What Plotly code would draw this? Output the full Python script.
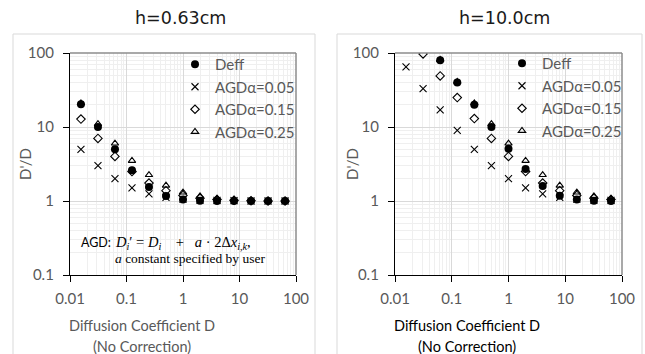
import plotly.graph_objects as go

W, H = 645, 354

# ---- data ----
d_values = [0.015625, 0.03125, 0.0625, 0.125, 0.25, 0.5, 1, 2, 4, 8, 16, 32, 64]

# panel h=0.63cm
deff_063 = [20.3, 10.0, 5.0, 2.6, 1.55, 1.17, 1.05, 1.01, 1.0, 1.0, 1.0, 1.0, 1.0]
agd005_063 = [5.0, 3.0, 2.0, 1.5, 1.25, 1.12, 1.06, 1.03, 1.02, 1.01, 1.0, 1.0, 1.0]
agd015_063 = [12.8, 7.0, 4.0, 2.5, 1.75, 1.38, 1.19, 1.09, 1.05, 1.02, 1.01, 1.0, 1.0]
agd025_063 = [21.0, 11.0, 6.0, 3.5, 2.25, 1.62, 1.31, 1.16, 1.08, 1.04, 1.02, 1.01, 1.0]

# panel h=10.0cm
deff_10 = [320, 160, 80, 40, 20, 10, 5.1, 2.7, 1.6, 1.18, 1.05, 1.01, 1.0]
agd005_10 = [65, 33, 17, 9, 5, 3, 2, 1.5, 1.25, 1.12, 1.06, 1.03, 1.02]
agd015_10 = [193, 97, 49, 25, 13, 7, 4, 2.5, 1.75, 1.38, 1.19, 1.09, 1.05]
agd025_10 = [321, 161, 81, 41, 21, 11, 6, 3.5, 2.25, 1.62, 1.31, 1.16, 1.08]

series_names = ["Deff", "AGDα=0.05", "AGDα=0.15", "AGDα=0.25"]
panel_titles = ["h=0.63cm", "h=10.0cm"]

x_tickvals = [0.01, 0.1, 1, 10, 100]
x_ticktext = ["0.01", "0.1", "1", "10", "100"]
y_tickvals = [0.1, 1, 10, 100]
y_ticktext = ["0.1", "1", "10", "100"]

x_title = ["Diffusion Coefficient D", "(No Correction)"]
y_title = "D'/D"

# ---- styles ----
SANS = "Lato"
GRAY = "#595959"
styles = [
    dict(symbol="circle", size=8, color="black", line=dict(width=0)),
    dict(symbol="x-thin", size=7, color="black", line=dict(width=1.1, color="black")),
    dict(symbol="diamond-open", size=6.5, color="black", line=dict(width=1.1, color="black")),
    dict(symbol="triangle-up-open", size=6.5, color="black", line=dict(width=1.1, color="black")),
]

def px_x(p):
    return p / W

def px_y(p):
    return 1 - p / H

fig = go.Figure()

panels = [
    ([deff_063, agd005_063, agd015_063, agd025_063], "x", "y", "legend"),
    ([deff_10, agd005_10, agd015_10, agd025_10], "x2", "y2", "legend2"),
]
for series, xa, ya, lg in panels:
    for name, ys, st in zip(series_names, series, styles):
        fig.add_trace(go.Scatter(
            x=d_values, y=ys, mode="markers", name=name,
            marker=st, xaxis=xa, yaxis=ya, legend=lg, cliponaxis=True,
        ))

plot_dom_x = [(70, 296), (395, 622)]
ydom = [px_y(275), px_y(53)]

axis_common = dict(
    type="log", showline=True, linecolor="black", linewidth=1.3,
    ticks="outside", ticklen=6, tickcolor="black", tickwidth=1,
    tickfont=dict(family=SANS, size=15, color=GRAY),
    showgrid=True, gridcolor="#d9d9d9", gridwidth=1, zeroline=False, automargin=False,
    minor=dict(showgrid=True, gridcolor="#efefef", gridwidth=1, ticks="", dtick="D1"),
)

layout = dict(
    width=W, height=H, margin=dict(l=0, r=0, t=0, b=0, pad=0, autoexpand=False),
    paper_bgcolor="white", plot_bgcolor="white", showlegend=True,
)
for i, (x0, x1) in enumerate(plot_dom_x):
    sx = "" if i == 0 else str(i + 1)
    layout["xaxis" + sx] = dict(axis_common, domain=[px_x(x0), px_x(x1)], range=[-2, 2],
                                tickvals=x_tickvals, ticktext=x_ticktext,
                                anchor="y" + sx, ticklabelstandoff=4)
    layout["yaxis" + sx] = dict(axis_common, domain=ydom, range=[-1, 2],
                                tickvals=y_tickvals, ticktext=y_ticktext,
                                anchor="x" + sx, ticklabelstandoff=6)

leg_common = dict(font=dict(family=SANS, size=15, color=GRAY), bgcolor="rgba(0,0,0,0)",
                  xanchor="left", yanchor="top", itemwidth=30, tracegroupgap=0)
layout["legend"] = dict(leg_common, x=px_x(175), y=px_y(48))
layout["legend2"] = dict(leg_common, x=px_x(502), y=px_y(47))

fig.update_layout(**layout)

shapes = []
# chart-area borders
shapes.append(dict(type="rect", xref="paper", yref="paper", x0=px_x(13), x1=px_x(315),
                   y0=-0.05, y1=px_y(34), line=dict(color="#d9d9d9", width=1)))
shapes.append(dict(type="rect", xref="paper", yref="paper", x0=px_x(337), x1=px_x(642),
                   y0=-0.05, y1=px_y(34), line=dict(color="#d9d9d9", width=1)))
# top/right plot frame
for sx in ["", "2"]:
    shapes.append(dict(type="line", xref="x" + sx + " domain", yref="y" + sx + " domain",
                       x0=0, x1=1, y0=1, y1=1, line=dict(color="#8c8c8c", width=1.5)))
    shapes.append(dict(type="line", xref="x" + sx + " domain", yref="y" + sx + " domain",
                       x0=1, x1=1, y0=0, y1=1, line=dict(color="#8c8c8c", width=1.5)))
fig.update_layout(shapes=shapes)

ann = []
# panel titles
for cx, t in zip([180, 505], panel_titles):
    ann.append(dict(text=t, x=px_x(cx), y=px_y(18), xref="paper", yref="paper",
                    showarrow=False, xanchor="center", yanchor="middle",
                    font=dict(family="DejaVu Sans", size=17.5, color="#1a1a1a")))
# x-axis titles
for cx, col in zip([142, 467], [GRAY, "black"]):
    for line, cy in zip(x_title, [325, 346]):
        ann.append(dict(text=line, x=px_x(cx), y=px_y(cy), xref="paper", yref="paper",
                        showarrow=False, xanchor="center", yanchor="middle",
                        font=dict(family=SANS, size=14.5, color=col)))
# y-axis titles
for cx in [25, 352]:
    ann.append(dict(text=y_title, x=px_x(cx), y=px_y(164), xref="paper", yref="paper",
                    showarrow=False, xanchor="center", yanchor="middle", textangle=-90,
                    font=dict(family=SANS, size=15, color=GRAY)))
# formula annotation
ann.append(dict(text="AGD:", x=px_x(79), y=px_y(243), xref="paper", yref="paper",
                showarrow=False, xanchor="left", yanchor="middle",
                font=dict(family=SANS, size=12.5, color="black")))
nb = "\u00a0"
formula = ("<i>D</i><sub><i>i</i></sub>′ = <i>D</i><sub><i>i</i></sub>" + nb * 4 + "+" + nb * 3 +
           "<i>a</i> · 2Δ<i>x</i><sub><i>i,k</i></sub>,")
ann.append(dict(text=formula, x=px_x(113), y=px_y(243), xref="paper", yref="paper",
                showarrow=False, xanchor="left", yanchor="middle",
                font=dict(family="Liberation Serif", size=14.5, color="black")))
ann.append(dict(text="<i>a</i> constant specified by user", x=px_x(113), y=px_y(258),
                xref="paper", yref="paper", showarrow=False, xanchor="left", yanchor="middle",
                font=dict(family="Liberation Serif", size=13.5, color="black")))
fig.update_layout(annotations=ann)

fig.write_html("out.html", config={"displayModeBar": False},
               post_script="document.body.style.margin='0px';document.body.style.padding='0px';")
